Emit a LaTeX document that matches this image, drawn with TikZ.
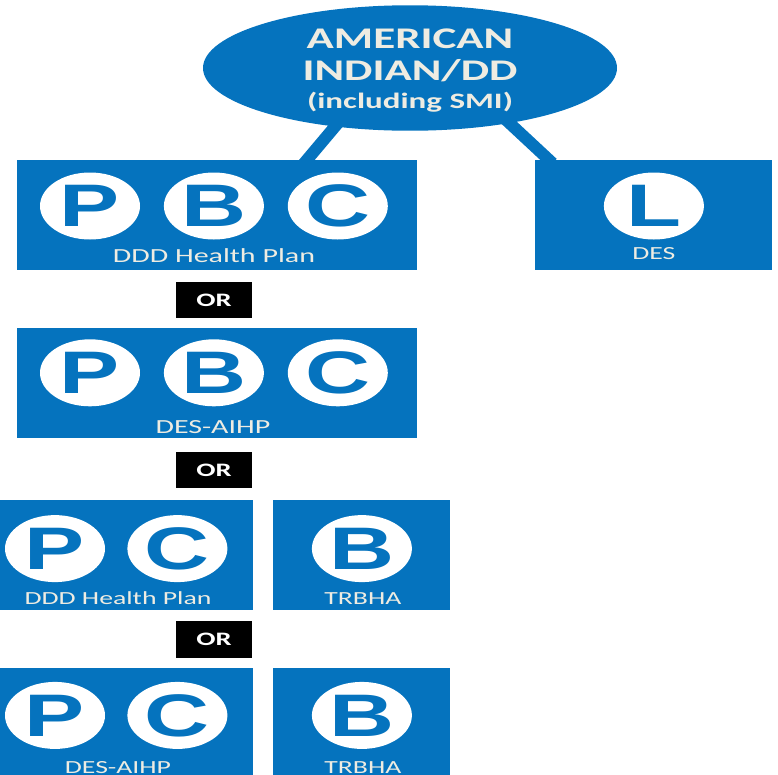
\documentclass[tikz,border=0pt]{standalone}
\usepackage{fontspec}
\setmainfont{Carlito}
\newfontfamily\planfont{Carlito}[FakeStretch=1.5]
\newfontfamily\badgefont{Liberation Sans}[FakeStretch=1.5]
\usetikzlibrary{shapes.geometric, positioning, calc, backgrounds}
\definecolor{planblue}{RGB}{5,115,190}
\definecolor{paletext}{RGB}{238,236,226}

\begin{document}
\begin{tikzpicture}[
    x=1pt, y=-1pt,
    group/.style={ellipse, fill=planblue, text=paletext, inner sep=0pt, minimum width=414pt, minimum height=122pt, align=center, font=\planfont\bfseries\fontsize{30}{32}\selectfont},
    plan/.style={rectangle, fill=planblue, inner sep=0pt, minimum height=110pt},
    badge/.style={ellipse, fill=white, text=planblue, inner sep=0pt, minimum width=100pt, minimum height=67pt, font=\badgefont\bfseries\fontsize{60}{60}\selectfont},
    caption/.style={text=paletext, inner sep=0pt, anchor=base, font=\planfont\fontsize{#1}{#1}\selectfont},
    caption/.default=18.5,
    orbox/.style={rectangle, fill=black, text=white, inner sep=0pt, minimum width=76pt, minimum height=36pt, font=\planfont\bfseries\fontsize{19}{19}\selectfont},
    link/.style={planblue, line width=12pt}
]
\useasboundingbox (0,0) rectangle (778,774);
\node[group] (ai) at (410,68) {\rule{0pt}{25pt}AMERICAN\\INDIAN/DD\\[-4pt]{\fontsize{22}{26}\selectfont(including SMI)}};
% first row
\node[plan, minimum width=400pt] (ddd1) at (217,215) {};
\node[plan, minimum width=237pt, right=118pt of ddd1] (des) {};
\node[badge] (p1) at ($(ddd1.center)+(-127,-9)$) {P};
\node[badge, right=23.5pt of p1] (b1) {B};
\node[badge, right=23.5pt of b1] (c1) {C};
\node[caption=20] at ($(ddd1.south)+(-3,-8)$) {DDD Health Plan};
\node[badge] (l1) at ($(des.center)+(0,-9)$) {L};
\node[caption] at ($(des.south)+(0,-11)$) {DES};
% second row
\node[orbox, below=12pt of ddd1, xshift=-3pt] (or1) {OR};
\node[plan, minimum width=400pt, below=9pt of or1, xshift=3pt] (aihp2) {};
\node[badge] (p2) at ($(aihp2.center)+(-127,-10)$) {P};
\node[badge, right=23.5pt of p2] (b2) {B};
\node[badge, right=23.5pt of b2] (c2) {C};
\node[caption=20] at ($(aihp2.south)+(-4,-5)$) {DES-AIHP};
% third row
\node[orbox, below=14pt of aihp2, xshift=-3pt] (or2) {OR};
\node[plan, minimum width=274pt, below=11pt of or2, xshift=-98pt] (ddd3) {};
\node[plan, minimum width=177pt, right=20pt of ddd3] (trbha3) {};
\node[badge] (p3) at ($(ddd3.center)+(-61,-6)$) {P};
\node[badge, right=22pt of p3] (c3) {C};
\node[caption] at ($(ddd3.south)+(2,-5)$) {DDD Health Plan};
\node[badge] (b3) at ($(trbha3.center)+(0,-6)$) {B};
\node[caption] at ($(trbha3.south)+(1,-5)$) {TRBHA};
% fourth row
\node[orbox, minimum height=37pt, below=11pt of ddd3, xshift=98pt] (or3) {OR};
\node[plan, minimum width=274pt, below=10pt of or3, xshift=-98pt] (aihp4) {};
\node[plan, minimum width=177pt, right=20pt of aihp4] (trbha4) {};
\node[badge] (p4) at ($(aihp4.center)+(-61,-8)$) {P};
\node[badge, right=22pt of p4] (c4) {C};
\node[caption] at ($(aihp4.south)+(2,-5)$) {DES-AIHP};
\node[badge] (b4) at ($(trbha4.center)+(0,-8)$) {B};
\node[caption] at ($(trbha4.south)+(1,-5)$) {TRBHA};
\begin{scope}[on background layer]
\draw[link, shorten <=-6pt, shorten >=-5pt] (ai.218) -- ($(ddd1.north)+(90,0)$);
\draw[link, shorten <=-6pt, shorten >=-5pt] (ai.331.6) -- ($(des.north)+(-105,0)$);
\end{scope}
\end{tikzpicture}
\end{document}
